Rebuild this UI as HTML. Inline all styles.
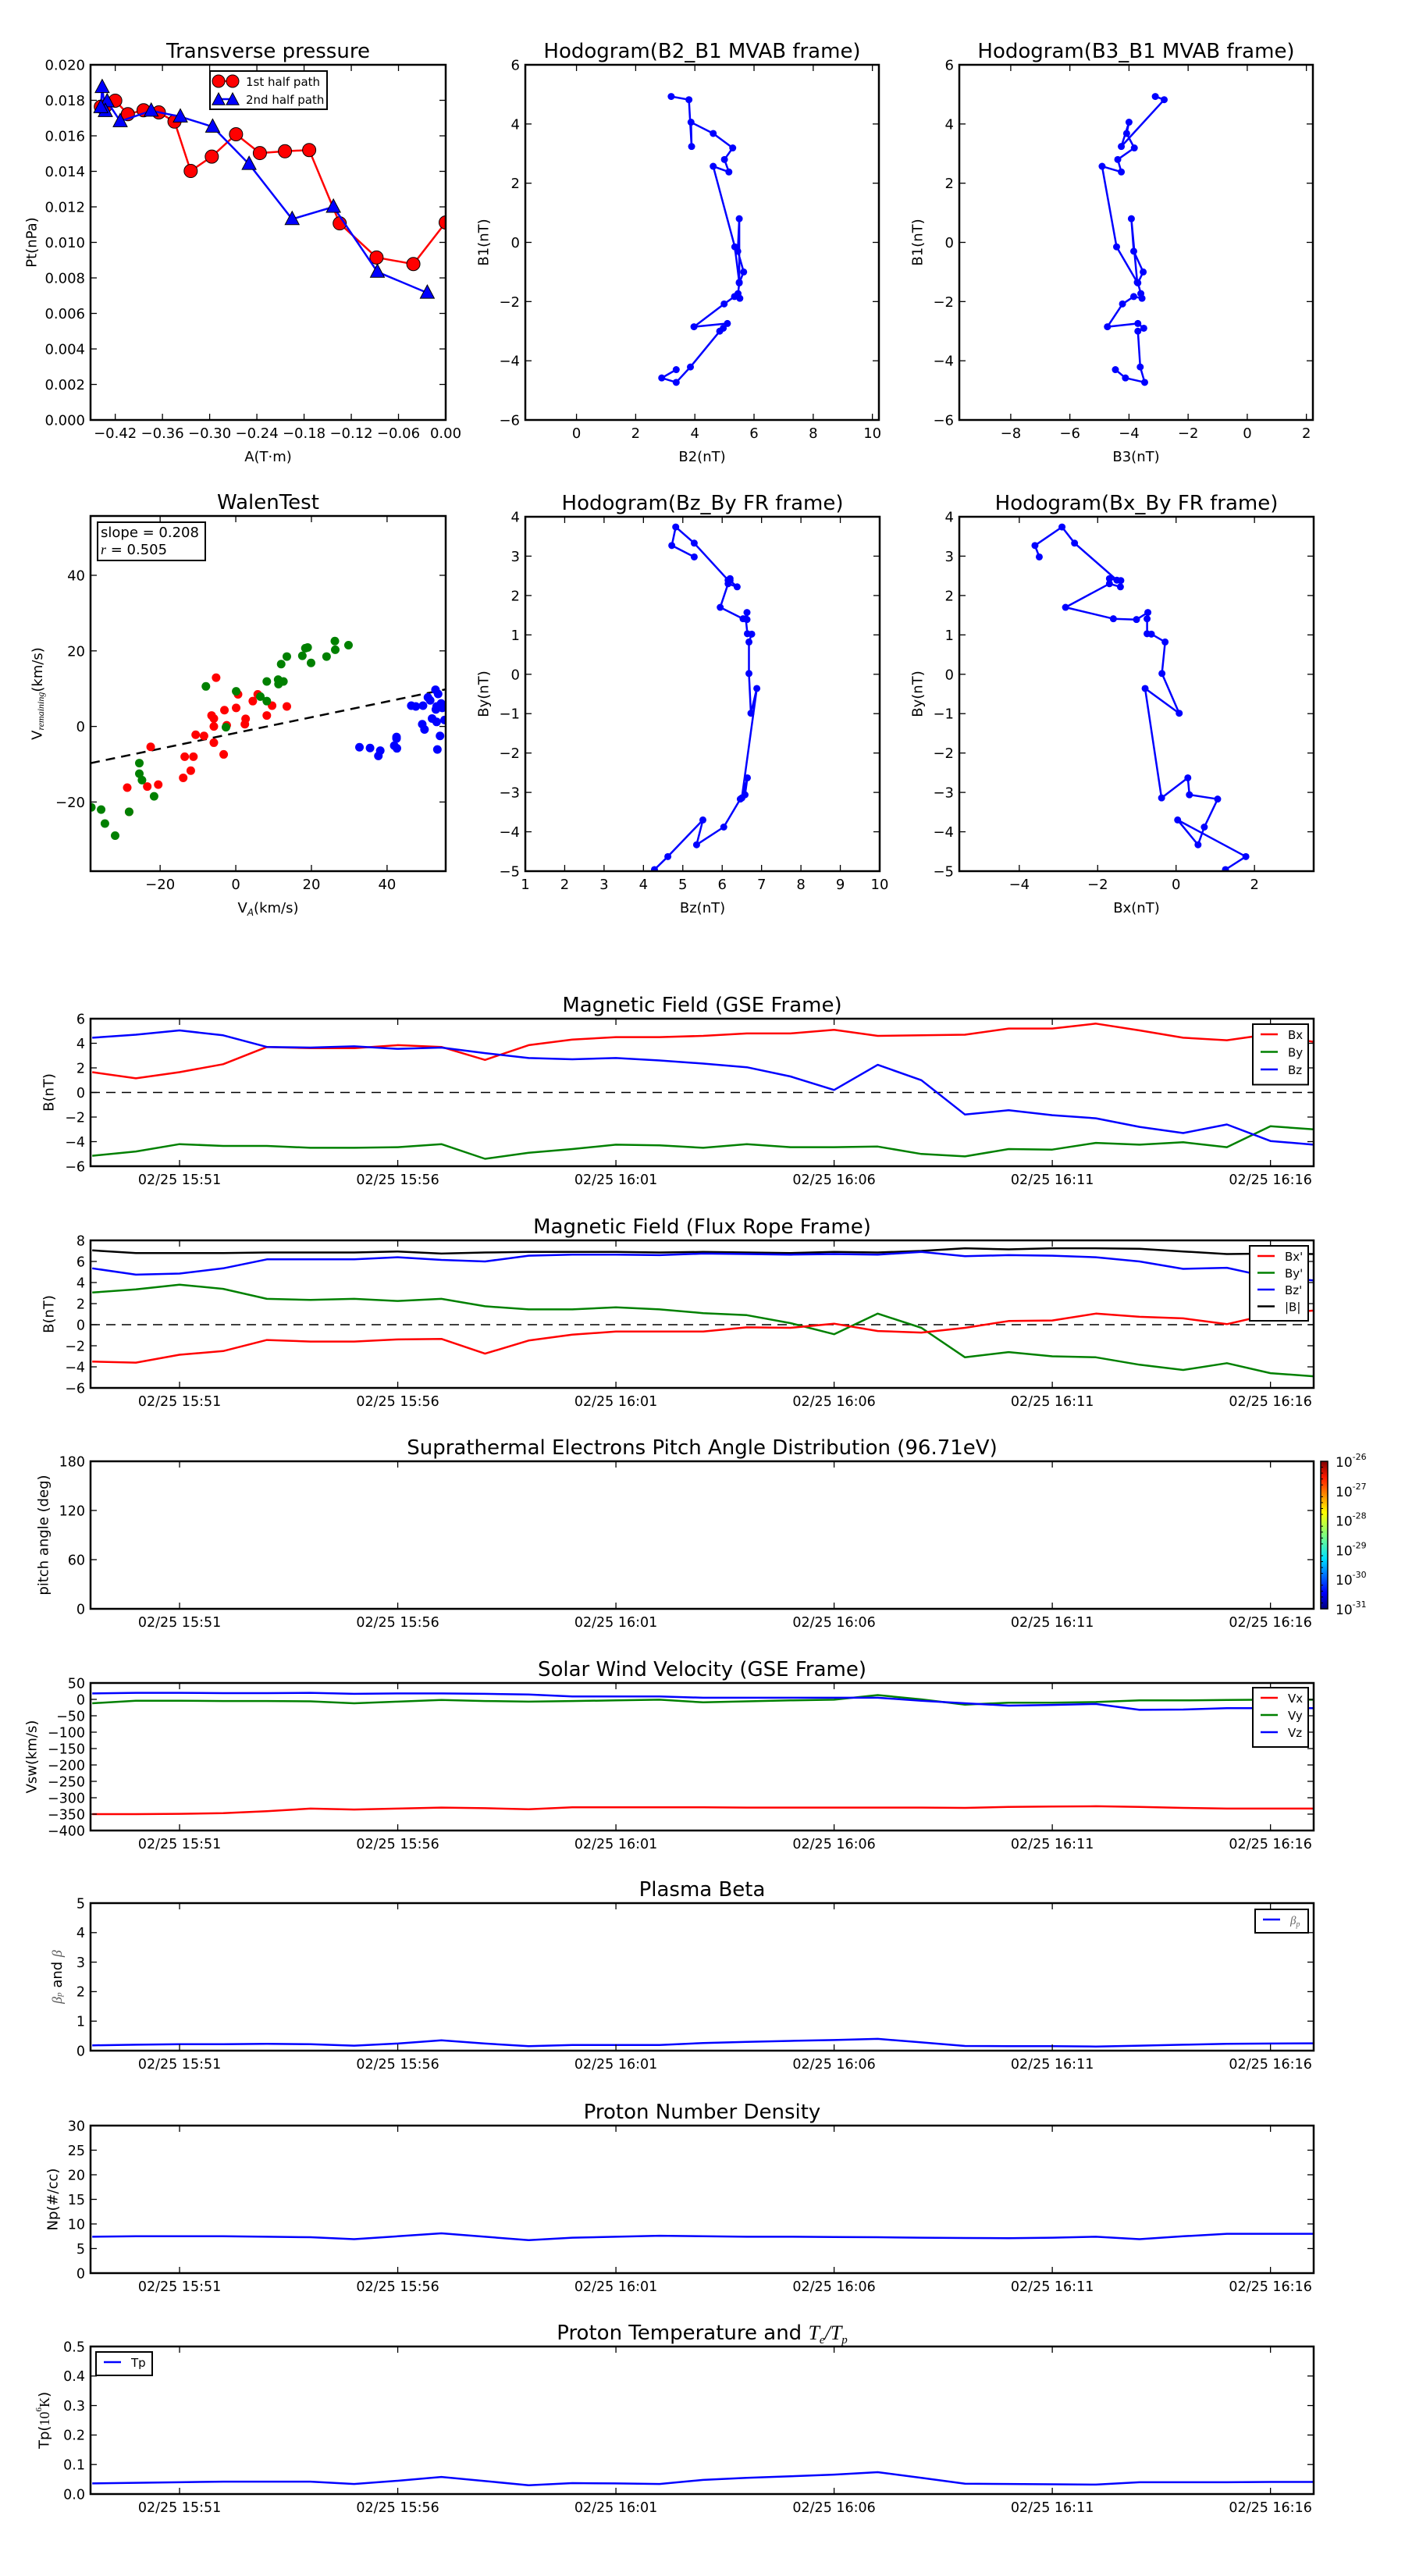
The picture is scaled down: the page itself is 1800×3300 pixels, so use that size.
<!DOCTYPE html>
<html><head><meta charset="utf-8"><title>Flux rope analysis</title>
<style>
html,body{margin:0;padding:0;background:#fff;}
svg{display:block;font-family:"DejaVu Sans","Liberation Sans",sans-serif;}
</style></head>
<body>
<svg id="chart" xmlns="http://www.w3.org/2000/svg" width="1800" height="3300" viewBox="0 0 1800 3300">
<defs>
<linearGradient id="jet" x1="0" y1="1" x2="0" y2="0">
<stop offset="0" stop-color="#00007f"/><stop offset="0.11" stop-color="#0000ff"/><stop offset="0.34" stop-color="#00e0ff"/><stop offset="0.5" stop-color="#7fff7f"/><stop offset="0.65" stop-color="#ffff00"/><stop offset="0.89" stop-color="#ff1a00"/><stop offset="1" stop-color="#7f0000"/>
</linearGradient>
</defs>
</svg>
<script>
// ---------- data: transverse pressure ----------
const ptA1 = [-0.4383,-0.4326,-0.4200,-0.4040,-0.3840,-0.3646,-0.3447,-0.3241,-0.2973,-0.2665,-0.2362,-0.2043,-0.1735,-0.1347,-0.0879,-0.0411,0.0];
const ptP1 = [0.01764,0.01767,0.01798,0.01722,0.01744,0.01732,0.01680,0.01402,0.01483,0.01609,0.01503,0.01513,0.01520,0.01107,0.00915,0.00878,0.01112];
const ptA2 = [-0.0234,-0.0868,-0.1427,-0.1952,-0.2499,-0.2962,-0.3373,-0.3743,-0.4137,-0.4303,-0.4326,-0.4366,-0.4383];
const ptP2 = [0.00716,0.00834,0.01200,0.01131,0.01441,0.01651,0.01708,0.01741,0.01682,0.01794,0.01739,0.01874,0.01761];
// ---------- data: MVAB hodograms ----------
const mvB1 = [4.93,4.82,3.24,4.06,3.68,3.19,2.8,2.38,2.57,-0.15,-1.35,0.8,-0.3,-1.0,-1.37,-1.73,-1.89,-1.83,-2.08,-2.85,-2.74,-2.9,-3.0,-4.21,-4.73,-4.58,-4.3];
const mvB2 = [3.2,3.8,3.89,3.87,4.62,5.28,5.0,5.15,4.62,5.35,5.5,5.5,5.45,5.65,5.5,5.46,5.52,5.34,4.99,3.97,5.1,4.96,4.84,3.85,3.37,2.88,3.37];
const mvB3 = [-3.11,-2.81,-4.26,-4.0,-4.08,-3.82,-4.38,-4.26,-4.91,-4.42,-3.72,-3.92,-3.84,-3.52,-3.7,-3.6,-3.56,-3.84,-4.22,-4.73,-3.7,-3.5,-3.7,-3.62,-3.47,-4.12,-4.46];
// ---------- data: FR hodograms ----------
const hBx = [-3.49,-3.6,-2.91,-2.59,-1.51,-1.7,-1.41,-1.42,-1.7,-2.82,-1.6,-1.01,-0.72,-0.74,-0.74,-0.63,-0.28,-0.36,0.08,-0.79,-0.37,0.3,0.34,1.06,0.72,0.56,0.04,1.78,1.26];
const hBy = [2.98,3.27,3.74,3.33,2.39,2.43,2.38,2.22,2.3,1.7,1.41,1.39,1.57,1.41,1.03,1.02,0.82,0.02,-0.99,-0.36,-3.14,-2.63,-3.06,-3.17,-3.88,-4.33,-3.7,-4.63,-4.96];
const hBz = [5.29,4.72,4.82,5.29,6.15,6.2,6.2,6.38,6.15,5.95,6.53,6.63,6.63,6.6,6.64,6.75,6.68,6.68,6.73,6.88,6.5,6.64,6.58,6.46,6.04,5.35,5.51,4.62,4.28];
// ---------- data: Walen test ----------
const walenSlope = 0.208;
const walenIntercept = -1.73;
const wRedX = [-5.2,0.6,5.8,4.5,9.6,13.5,-3.0,0.1,-6.4,-5.8,8.2,2.6,2.4,-2.4,-5.8,-10.6,-8.4,-5.8,-3.2,-22.5,-13.5,-11.2,-11.9,-13.9,-23.4,-20.5,-28.7,-28.2];
const wRedY = [12.9,8.5,8.5,6.7,5.5,5.3,4.3,4.9,2.9,2.1,2.9,2.0,0.6,0.3,0,-2.2,-2.5,-4.3,-7.4,-5.4,-8.0,-8.0,-11.7,-13.6,-15.9,-15.4,-16.2,-22.6];
const wGreenX = [-7.9,0.1,6.5,8.2,8.2,11.2,11.3,12.6,12.0,13.5,17.6,18.4,19.0,19.9,24.0,26.2,26.3,29.8,-2.6,-25.5,-25.5,-24.8,-21.6,-28.2,-38.2,-35.6,-34.6,-31.9];
const wGreenY = [10.6,9.3,7.9,6.7,11.9,12.4,11.2,11.9,16.5,18.5,18.7,20.7,20.9,16.8,18.5,22.6,20.3,21.5,-0.2,-9.7,-12.5,-14.2,-18.5,-22.6,-21.4,-22.0,-25.7,-28.9];
const wBlueX = [52.8,53.5,50.8,51.4,54.3,54.6,46.4,47.6,49.5,52.9,53.1,51.9,53.1,55.2,49.3,49.9,54.0,42.5,42.5,41.9,42.6,53.3,32.7,35.5,38.2,37.7];
const wBlueY = [9.7,8.6,7.7,6.9,6.1,4.9,5.5,5.3,5.5,4.5,5.3,2.1,1.2,1.7,0.6,-0.8,-2.5,-2.8,-3.2,-5.1,-5.8,-6.1,-5.5,-5.7,-6.4,-7.8];
// ---------- data: time series (one sample per minute from 15:49) ----------
const timeTickLabels = ["02/25 15:51","02/25 15:56","02/25 16:01","02/25 16:06","02/25 16:11","02/25 16:16"];
const timeTickMinutes = [2,7,12,17,22,27];
const gseBx = [1.65,1.15,1.65,2.3,3.7,3.6,3.6,3.85,3.7,2.65,3.85,4.3,4.5,4.5,4.6,4.8,4.8,5.1,4.6,4.65,4.7,5.2,5.2,5.6,5.05,4.45,4.25,4.75,4.1];
const gseBy = [-5.15,-4.8,-4.2,-4.35,-4.35,-4.5,-4.5,-4.45,-4.2,-5.4,-4.9,-4.6,-4.25,-4.3,-4.5,-4.2,-4.45,-4.45,-4.4,-5.0,-5.2,-4.6,-4.65,-4.1,-4.25,-4.05,-4.45,-2.75,-3.0];
const gseBz = [4.45,4.7,5.05,4.65,3.7,3.65,3.75,3.55,3.65,3.2,2.8,2.7,2.8,2.6,2.35,2.05,1.3,0.2,2.25,1.0,-1.8,-1.45,-1.85,-2.1,-2.8,-3.3,-2.6,-3.95,-4.25];
const frBx = [-3.5,-3.6,-2.85,-2.5,-1.45,-1.6,-1.6,-1.4,-1.35,-2.75,-1.5,-0.95,-0.65,-0.65,-0.65,-0.25,-0.3,0.1,-0.6,-0.75,-0.3,0.35,0.4,1.05,0.75,0.6,0.05,1.0,1.35];
const frBy = [3.05,3.35,3.8,3.4,2.45,2.35,2.45,2.25,2.45,1.75,1.45,1.45,1.65,1.45,1.1,0.9,0.15,-0.9,1.05,-0.3,-3.1,-2.6,-3.0,-3.1,-3.8,-4.3,-3.65,-4.6,-4.9];
const frBz = [5.35,4.75,4.85,5.35,6.2,6.2,6.2,6.4,6.15,6.0,6.55,6.65,6.65,6.6,6.75,6.7,6.65,6.7,6.65,6.9,6.5,6.6,6.55,6.4,6.0,5.3,5.4,4.5,4.2];
const frBt = [7.05,6.8,6.8,6.8,6.85,6.85,6.85,6.95,6.75,6.85,6.9,6.9,6.9,6.85,6.9,6.85,6.8,6.9,6.85,7.0,7.25,7.15,7.25,7.25,7.2,6.95,6.7,6.75,6.7];
const vswX = [-350,-350,-349,-347,-341,-333,-336,-333,-330,-332,-335,-329,-329,-329,-329,-330,-330,-330,-330,-330,-331,-328,-327,-326,-328,-331,-333,-333,-333];
const vswY = [-12,-4,-4,-5,-5,-6,-12,-7,-2,-5,-7,-5,-3,-1,-9,-6,-3,-1,13,0,-16,-10,-10,-8,-3,-3,-2,-1,-1];
const vswZ = [18,20,20,19,19,20,17,18,18,17,15,9,9,9,5,5,5,5,5,-4,-12,-19,-17,-14,-32,-31,-27,-27,-27];
const betaP = [0.18,0.2,0.22,0.22,0.23,0.22,0.17,0.24,0.35,0.24,0.15,0.19,0.19,0.19,0.26,0.3,0.33,0.36,0.4,0.28,0.16,0.15,0.15,0.14,0.17,0.2,0.23,0.24,0.25];
const protonN = [7.4,7.5,7.5,7.5,7.4,7.3,6.9,7.5,8.1,7.4,6.7,7.2,7.4,7.6,7.5,7.4,7.4,7.35,7.3,7.2,7.15,7.1,7.2,7.4,6.9,7.5,8.0,8.0,8.0];
const protonT = [0.036,0.038,0.04,0.042,0.042,0.042,0.034,0.045,0.058,0.044,0.03,0.037,0.036,0.034,0.048,0.055,0.06,0.066,0.074,0.055,0.035,0.034,0.033,0.032,0.04,0.04,0.04,0.041,0.041];
const cbarExponents = ["-26","-27","-28","-29","-30","-31"];

const NS = 'http://www.w3.org/2000/svg';
const svg = document.getElementById('chart');
const M = '\u2212';
function mk(tag, attrs, parent) {
  const e = document.createElementNS(NS, tag);
  for (const k in attrs) e.setAttribute(k, attrs[k]);
  (parent || svg).appendChild(e);
  return e;
}
function fmtNum(v, d) { const s = v.toFixed(d); return s.startsWith('-') ? M + s.slice(1) : s; }
let clipId = 0;

function makeAxes(o) {
  const g = mk('g', {});
  
  
  const sx = v => o.x + (v - o.xd[0]) / (o.xd[1] - o.xd[0]) * o.w;
  const sy = v => o.y + o.h - (v - o.yd[0]) / (o.yd[1] - o.yd[0]) * o.h;
  const cid = 'clip' + (clipId++);
  const cp = mk('clipPath', { id: cid }, g);
  mk('rect', { x: o.x, y: o.y, width: o.w, height: o.h }, cp);
  const plot = mk('g', { 'clip-path': 'url(#' + cid + ')' }, g);
  
  
  const fs = o.fs || 18;
  // ticks
  const tl = 8;
  (o.xticks || []).forEach((t, i) => {
    const X = sx(t);
    mk('line', { x1: X, y1: o.y + o.h, x2: X, y2: o.y + o.h - tl, stroke: '#000', 'stroke-width': 1.3 }, g);
    mk('line', { x1: X, y1: o.y, x2: X, y2: o.y + tl, stroke: '#000', 'stroke-width': 1.3 }, g);
    const lab = mk('text', { x: X, y: o.y + o.h + 23, 'text-anchor': 'middle', 'font-size': fs }, g);
    
    
    lab.textContent = o.xlabels ? o.xlabels[i] : o.xfmt(t);
  });
  (o.yticks || []).forEach((t, i) => {
    const Y = sy(t);
    mk('line', { x1: o.x, y1: Y, x2: o.x + tl, y2: Y, stroke: '#000', 'stroke-width': 1.3 }, g);
    mk('line', { x1: o.x + o.w, y1: Y, x2: o.x + o.w - tl, y2: Y, stroke: '#000', 'stroke-width': 1.3 }, g);
    const lab = mk('text', { x: o.x - 7, y: Y + fs * 0.36, 'text-anchor': 'end', 'font-size': fs }, g);
    
    
    lab.textContent = o.yfmt(t);
  });
  if (o.title) {
    const t = mk('text', { x: o.x + o.w / 2, y: o.y - 9, 'text-anchor': 'middle', 'font-size': o.tfs || 26 }, g);
    
    
    t.innerHTML = o.title;
  }
  if (o.xlabel) {
    const t = mk('text', { x: o.x + o.w / 2, y: o.y + o.h + 53, 'text-anchor': 'middle', 'font-size': 18 }, g);
    
    
    t.innerHTML = o.xlabel;
  }
  if (o.ylabel) {
    const yc = o.y + o.h / 2;
    const t = mk('text', { x: o.ylx, y: yc, 'text-anchor': 'middle', 'font-size': 18, transform: 'rotate(-90 ' + o.ylx + ' ' + yc + ')', 'dominant-baseline': 'central' }, g);
    
    
    t.innerHTML = o.ylabel;
  }
  const frame = mk('rect', { x: o.x, y: o.y, width: o.w, height: o.h, fill: 'none', stroke: '#000', 'stroke-width': 2.5 }, g);
  
  
  return { sx, sy, g, plot };
}
function polyline(ax, xs, ys, color, name, w) {
  const pts = xs.map((v, i) => ax.sx(v).toFixed(1) + ',' + ax.sy(ys[i]).toFixed(1)).join(' ');
  const p = mk('polyline', { points: pts, fill: 'none', stroke: color, 'stroke-width': w || 2.5, 'stroke-linejoin': 'round' }, ax.plot);
  
  
  return p;
}
function dots(ax, xs, ys, color, r, name) {
  xs.forEach((v, i) => {
    const c = mk('circle', { cx: ax.sx(v), cy: ax.sy(ys[i]), r: r, fill: color, stroke: 'none' }, ax.plot);
    
    
  });
}
function range(a, b, s) { const r = []; for (let v = a; v <= b + 1e-9; v += s) r.push(+v.toFixed(6)); return r; }
const intFmt = v => fmtNum(v, 0);

// ---------- row 1 ----------
const axPt = makeAxes({ name: 'transverse-pressure-chart', x: 116, y: 83, w: 455, h: 455, xd: [-0.4514, 0], yd: [0, 0.02],
  xticks: range(-0.42, 0, 0.06), xfmt: v => fmtNum(v, 2), yticks: range(0, 0.02, 0.002), yfmt: v => fmtNum(v, 3),
  title: 'Transverse pressure', xlabel: 'A(T·m)', ylabel: 'Pt(nPa)', ylx: 41 });
polyline(axPt, ptA1, ptP1, '#f00', 'first-half-path-line');
ptA1.forEach((v, i) => {
  const c = mk('circle', { cx: axPt.sx(v), cy: axPt.sy(ptP1[i]), r: 8.5, fill: '#f00', stroke: '#000', 'stroke-width': 1 }, axPt.plot);
  
  
});
polyline(axPt, ptA2, ptP2, '#00f', 'second-half-path-line');
function tri(parent, cx, cy, s) {
  return mk('polygon', { points: `${cx},${cy - s} ${cx - s * 0.9},${cy + s * 0.7} ${cx + s * 0.9},${cy + s * 0.7}`, fill: '#00f', stroke: '#000', 'stroke-width': 1 }, parent);
}
ptA2.forEach((v, i) => {
  const t = tri(axPt.plot, axPt.sx(v), axPt.sy(ptP2[i]), 10);
  
  
});
{
  const lg = mk('g', {});
  
  
  mk('rect', { x: 269, y: 91, width: 150, height: 49, fill: '#fff', stroke: '#000', 'stroke-width': 2 }, lg);
  mk('line', { x1: 280, y1: 104, x2: 298, y2: 104, stroke: '#f00', 'stroke-width': 2.5 }, lg);
  mk('circle', { cx: 280, cy: 104, r: 8, fill: '#f00', stroke: '#000' }, lg);
  mk('circle', { cx: 298, cy: 104, r: 8, fill: '#f00', stroke: '#000' }, lg);
  const t1 = mk('text', { x: 315, y: 110, 'font-size': 15 }, lg);
  
  
  t1.textContent = '1st half path';
  mk('line', { x1: 280, y1: 127, x2: 298, y2: 127, stroke: '#00f', 'stroke-width': 2.5 }, lg);
  tri(lg, 280, 128, 9); tri(lg, 298, 128, 9);
  const t2 = mk('text', { x: 315, y: 133, 'font-size': 15 }, lg);
  
  
  t2.textContent = '2nd half path';
}
const axB21 = makeAxes({ name: 'hodogram-b2-b1-chart', x: 673, y: 83, w: 453, h: 455, xd: [-1.73, 10.22], yd: [-6, 6],
  xticks: range(0, 10, 2), xfmt: intFmt, yticks: range(-6, 6, 2), yfmt: intFmt,
  title: 'Hodogram(B2_B1 MVAB frame)', xlabel: 'B2(nT)', ylabel: 'B1(nT)', ylx: 620 });
polyline(axB21, mvB2, mvB1, '#00f', 'hodogram-b2-b1-line');
dots(axB21, mvB2, mvB1, '#00f', 4.5, 'hodogram-b2-b1-point');
const axB31 = makeAxes({ name: 'hodogram-b3-b1-chart', x: 1229, y: 83, w: 453, h: 455, xd: [-9.74, 2.22], yd: [-6, 6],
  xticks: range(-8, 2, 2), xfmt: intFmt, yticks: range(-6, 6, 2), yfmt: intFmt,
  title: 'Hodogram(B3_B1 MVAB frame)', xlabel: 'B3(nT)', ylabel: 'B1(nT)', ylx: 1176 });
polyline(axB31, mvB3, mvB1, '#00f', 'hodogram-b3-b1-line');
dots(axB31, mvB3, mvB1, '#00f', 4.5, 'hodogram-b3-b1-point');

// ---------- row 2 ----------
const axW = makeAxes({ name: 'walen-test-chart', x: 116, y: 661, w: 455, h: 455, xd: [-38.4, 55.5], yd: [-38.3, 55.7],
  xticks: [-20, 0, 20, 40], xfmt: intFmt, yticks: [-20, 0, 20, 40], yfmt: intFmt,
  title: 'WalenTest', xlabel: 'V<tspan font-size="12" font-style="italic" dy="4">A</tspan><tspan dy="-4">(km/s)</tspan>',
  ylabel: 'V<tspan font-size="12" font-style="italic" font-family="Liberation Serif" dy="4">remaining</tspan><tspan dy="-4">(km/s)</tspan>', ylx: 48 });
{
  const xa = -38.4, xb = 55.5;
  const l = mk('line', { x1: axW.sx(xa), y1: axW.sy(walenSlope * xa + walenIntercept), x2: axW.sx(xb), y2: axW.sy(walenSlope * xb + walenIntercept), stroke: '#000', 'stroke-width': 2.5, 'stroke-dasharray': '12,8' }, axW.plot);
  
  
}
dots(axW, wRedX, wRedY, '#f00', 5.5, 'walen-point-red');
dots(axW, wGreenX, wGreenY, '#008000', 5.5, 'walen-point-green');
dots(axW, wBlueX, wBlueY, '#00f', 5.5, 'walen-point-blue');
{
  const b = mk('g', {});
  
  
  mk('rect', { x: 125, y: 669, width: 138, height: 49, fill: '#fff', stroke: '#000', 'stroke-width': 2 }, b);
  const t1 = mk('text', { x: 129, y: 688, 'font-size': 18 }, b); t1.textContent = 'slope = 0.208';
  const t2 = mk('text', { x: 129, y: 710, 'font-size': 18 }, b);
  t2.innerHTML = '<tspan font-style="italic" font-family="Liberation Serif">r</tspan> = 0.505';
}
const axBzBy = makeAxes({ name: 'hodogram-bz-by-chart', x: 673, y: 662, w: 454, h: 454, xd: [1, 10], yd: [-5, 4],
  xticks: range(1, 10, 1), xfmt: intFmt, yticks: range(-5, 4, 1), yfmt: intFmt,
  title: 'Hodogram(Bz_By FR frame)', xlabel: 'Bz(nT)', ylabel: 'By(nT)', ylx: 620 });
polyline(axBzBy, hBz, hBy, '#00f', 'hodogram-bz-by-line');
dots(axBzBy, hBz, hBy, '#00f', 4.5, 'hodogram-bz-by-point');
const axBxBy = makeAxes({ name: 'hodogram-bx-by-chart', x: 1229, y: 662, w: 454, h: 454, xd: [-5.53, 3.51], yd: [-5, 4],
  xticks: [-4, -2, 0, 2], xfmt: intFmt, yticks: range(-5, 4, 1), yfmt: intFmt,
  title: 'Hodogram(Bx_By FR frame)', xlabel: 'Bx(nT)', ylabel: 'By(nT)', ylx: 1176 });
polyline(axBxBy, hBx, hBy, '#00f', 'hodogram-bx-by-line');
dots(axBxBy, hBx, hBy, '#00f', 4.5, 'hodogram-bx-by-point');

// ---------- time series ----------
const minutes = gseBx.map((_, i) => i);
function tsAxes(name, top, yd, yticks, yfmt, title, ylabel, ylx) {
  return makeAxes({ name, x: 116, y: top, w: 1567, h: 189, xd: [-0.04, 27.99], yd, xticks: timeTickMinutes, xlabels: timeTickLabels,
    yticks, yfmt, title, ylabel, ylx, fs: 17.5 });
}
function zeroLine(ax) {
  const l = mk('line', { x1: 116, y1: ax.sy(0), x2: 1683, y2: ax.sy(0), stroke: '#000', 'stroke-width': 1.5, 'stroke-dasharray': '12,8' }, ax.plot);
  
  
}
function legend(name, x, y, w, rowH, items, fs) {
  const g = mk('g', {});
  
  
  mk('rect', { x, y, width: w, height: rowH * items.length + 10, fill: '#fff', stroke: '#000', 'stroke-width': 2 }, g);
  items.forEach((it, i) => {
    const cy = y + 13 + i * rowH;
    mk('line', { x1: x + 10, y1: cy, x2: x + 32, y2: cy, stroke: it[1], 'stroke-width': 2.5 }, g);
    const t = mk('text', { x: x + 45, y: cy + 6, 'font-size': fs || 15 }, g);
    
    
    t.innerHTML = it[0];
  });
}
const axGse = tsAxes('magnetic-field-gse-chart', 1305, [-6, 6], range(-6, 6, 2), intFmt, 'Magnetic Field (GSE Frame)', 'B(nT)', 63);
zeroLine(axGse);
polyline(axGse, minutes, gseBx, '#f00', 'gse-bx-line');
polyline(axGse, minutes, gseBy, '#008000', 'gse-by-line');
polyline(axGse, minutes, gseBz, '#00f', 'gse-bz-line');
legend('gse-legend', 1605, 1312, 71, 22.5, [['Bx', '#f00'], ['By', '#008000'], ['Bz', '#00f']]);

const axFr = tsAxes('magnetic-field-fr-chart', 1589, [-6, 8], range(-6, 8, 2), intFmt, 'Magnetic Field (Flux Rope Frame)', 'B(nT)', 63);
zeroLine(axFr);
polyline(axFr, minutes, frBt, '#000', 'fr-bt-line');
polyline(axFr, minutes, frBz, '#00f', 'fr-bz-line');
polyline(axFr, minutes, frBy, '#008000', 'fr-by-line');
polyline(axFr, minutes, frBx, '#f00', 'fr-bx-line');
legend('fr-legend', 1601, 1596, 75, 21.5, [["Bx'", '#f00'], ["By'", '#008000'], ["Bz'", '#00f'], ['|B|', '#000']]);

const axPad = tsAxes('pitch-angle-chart', 1872, [0, 180], [0, 60, 120, 180], intFmt, 'Suprathermal Electrons Pitch Angle Distribution (96.71eV)', 'pitch angle (deg)', 56);
{
  const cb = mk('g', {});
  
  
  mk('rect', { x: 1692, y: 1872, width: 9, height: 189, fill: 'url(#jet)', stroke: '#000', 'stroke-width': 1.5 }, cb);
  cbarExponents.forEach((e, i) => {
    const Y = 1872 + i * 189 / (cbarExponents.length - 1);
    const t = mk('text', { x: 1711, y: Y + 7, 'font-size': 17 }, cb);
    
    
    t.innerHTML = '10<tspan font-size="11" dy="-9">' + e + '</tspan>';
    for (let k = 1; k < 5 && i < cbarExponents.length - 1; k++) {
      const yy = Y + k * 189 / (cbarExponents.length - 1) / 5;
      mk('line', { x1: 1692, y1: yy, x2: 1695, y2: yy, stroke: '#000', 'stroke-width': 1 }, cb);
    }
  });
}

const axV = tsAxes('solar-wind-velocity-chart', 2156, [-400, 50], range(-400, 50, 50), intFmt, 'Solar Wind Velocity (GSE Frame)', 'Vsw(km/s)', 41);
polyline(axV, minutes, vswX, '#f00', 'vx-line');
polyline(axV, minutes, vswY, '#008000', 'vy-line');
polyline(axV, minutes, vswZ, '#00f', 'vz-line');
legend('velocity-legend', 1605, 2162, 71, 22, [['Vx', '#f00'], ['Vy', '#008000'], ['Vz', '#00f']]);

const axBeta = tsAxes('plasma-beta-chart', 2438, [0, 5], range(0, 5, 1), intFmt, 'Plasma Beta',
  '<tspan font-family="Liberation Serif" font-style="italic" fill="#555">β<tspan font-size="11" dy="3">p</tspan></tspan><tspan dy="-3"> and </tspan><tspan font-family="Liberation Serif" font-style="italic" fill="#555">β</tspan>', 73);
polyline(axBeta, minutes, betaP, '#00f', 'beta-p-line');
legend('beta-legend', 1608, 2446, 68, 20, [['<tspan font-family="Liberation Serif" font-style="italic" fill="#666">β<tspan font-size="10" dy="3">p</tspan></tspan>', '#00f']]);

const axNp = tsAxes('proton-density-chart', 2723, [0, 30], range(0, 30, 5), intFmt, 'Proton Number Density', 'Np(#/cc)', 68);
polyline(axNp, minutes, protonN, '#00f', 'np-line');

const axTp = tsAxes('proton-temperature-chart', 3006, [0, 0.5], range(0, 0.5, 0.1), v => v.toFixed(1),
  'Proton Temperature and <tspan font-family="Liberation Serif" font-style="italic">T<tspan font-size="15" dy="5">e</tspan><tspan dy="-5">/T</tspan><tspan font-size="15" dy="5">p</tspan></tspan>',
  'Tp(<tspan font-family="Liberation Serif">10<tspan font-size="11" dy="-7">6</tspan><tspan dy="7">K</tspan></tspan>)', 57);
polyline(axTp, minutes, protonT, '#00f', 'tp-line');
legend('tp-legend', 123, 3013, 72, 20, [['Tp', '#00f']]);
</script>
</body></html>
